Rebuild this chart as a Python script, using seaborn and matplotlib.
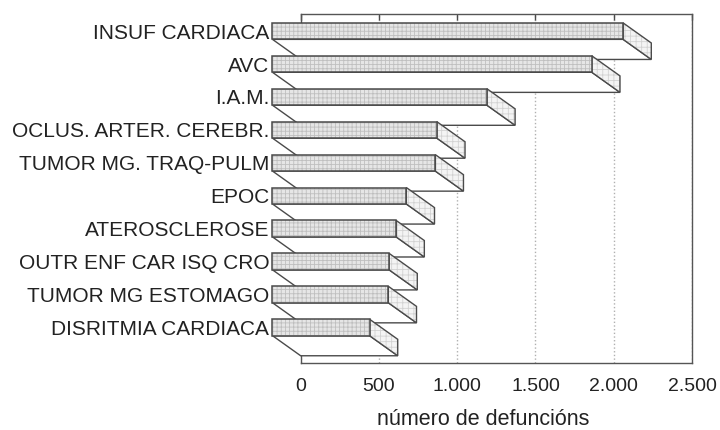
import matplotlib
matplotlib.use("Agg")
import matplotlib.pyplot as plt
from matplotlib.patches import Polygon, Rectangle
import seaborn as sns

# ── Data ─────────────────────────────────────────────────────────────────────
causes = ["INSUF CARDIACA", "AVC", "I.A.M.", "OCLUS. ARTER. CEREBR.",
          "TUMOR MG. TRAQ-PULM", "EPOC", "ATEROSCLEROSE",
          "OUTR ENF CAR ISQ CRO", "TUMOR MG ESTOMAGO", "DISRITMIA CARDIACA"]
deaths = [2240, 2040, 1370, 1050, 1040, 855, 790, 745, 740, 620]
xticks = [0, 500, 1000, 1500, 2000, 2500]
xtick_labels = ["0", "500", "1.000", "1.500", "2.000", "2.500"]
xlabel = "número de defuncións"

# ── Style ────────────────────────────────────────────────────────────────────
sns.set_style("white")
plt.rcParams["font.family"] = ["Liberation Sans", "DejaVu Sans"]
plt.rcParams["hatch.linewidth"] = 0.6

DX, DY = 180, 0.61          # depth of the pseudo-3d bars (data units)
EDGE = "#4a4a4a"
TEXT = "#222222"

fig = plt.figure(figsize=(7.2, 4.3), dpi=100)
ax = fig.add_axes([0.4176, 0.1558, 0.5435, 0.8116])   # back plane

sns.barplot(x=deaths, y=causes, orient="h", width=0.5, color="#e6e6e6", ax=ax)


def shape(pts, z, face, hatch=None, hatch_color=None):
    """fill (+hatch) polygon and an outline on top"""
    if hatch:
        ax.add_patch(Polygon(pts, closed=True, facecolor=face, edgecolor=hatch_color,
                             hatch=hatch, linewidth=0, zorder=z, clip_on=False))
    else:
        ax.add_patch(Polygon(pts, closed=True, facecolor=face, edgecolor="none",
                             zorder=z, clip_on=False))
    ax.add_patch(Polygon(pts, closed=True, fill=False, edgecolor=EDGE,
                         linewidth=1, zorder=z + 0.005, clip_on=False))


# seaborn bars sit on the back plane; move them forward and add the depth faces
for i, bar in enumerate(ax.patches[:len(deaths)]):
    x0, y0 = bar.get_x(), bar.get_y()
    w, h = bar.get_width(), bar.get_height()
    z = 3 + i * 0.1
    yb = y0 + h                                # lower edge (inverted axis)
    # bottom face
    shape([(x0 - DX, yb - DY), (x0 + w - DX, yb - DY), (x0 + w, yb), (x0, yb)],
          z, "white")
    # right side face
    shape([(x0 + w - DX, y0 - DY), (x0 + w - DX, yb - DY), (x0 + w, yb), (x0 + w, y0)],
          z + 0.01, "#f4f4f4", "+++", "#d2d2d2")
    # front face (the seaborn bar itself)
    bar.set_x(x0 - DX)
    bar.set_y(y0 - DY)
    bar.set_hatch("++++")
    bar.set_edgecolor("#bfbfbf")
    bar.set_linewidth(0)
    bar.set_zorder(z + 0.02)
    bar.set_clip_on(False)
    ax.add_patch(Rectangle((x0 - DX, y0 - DY), w, h, fill=False, edgecolor=EDGE,
                           linewidth=1.1, zorder=z + 0.03, clip_on=False))
    ax.text(x0 - DX - 20, y0 + h / 2 - DY + 0.06, causes[i], ha="right", va="center",
            fontsize=15, color=TEXT)

ax.set_xlim(0, 2500)
ax.set_ylim(9.47, -1.13)
ax.set_yticks([])
ax.set_ylabel("")
ax.set_xticks(xticks, xtick_labels)
ax.tick_params(axis="x", bottom=False, top=True, direction="in", length=4, width=1,
               color=EDGE, labelsize=14, labelcolor=TEXT, pad=10.5)
ax.xaxis.grid(True, linestyle=":", color="#b0b0b0", linewidth=1)
ax.set_axisbelow(True)
for s in ax.spines.values():
    s.set_visible(True)
    s.set_color("#555555")
    s.set_linewidth(1)

ax.set_xlabel(xlabel, fontsize=15.5, color=TEXT)
ax.xaxis.set_label_coords(0.466, -0.162)
ax.xaxis.label.set_verticalalignment("center")

fig.savefig("out.png", dpi=100)
plt.close()
